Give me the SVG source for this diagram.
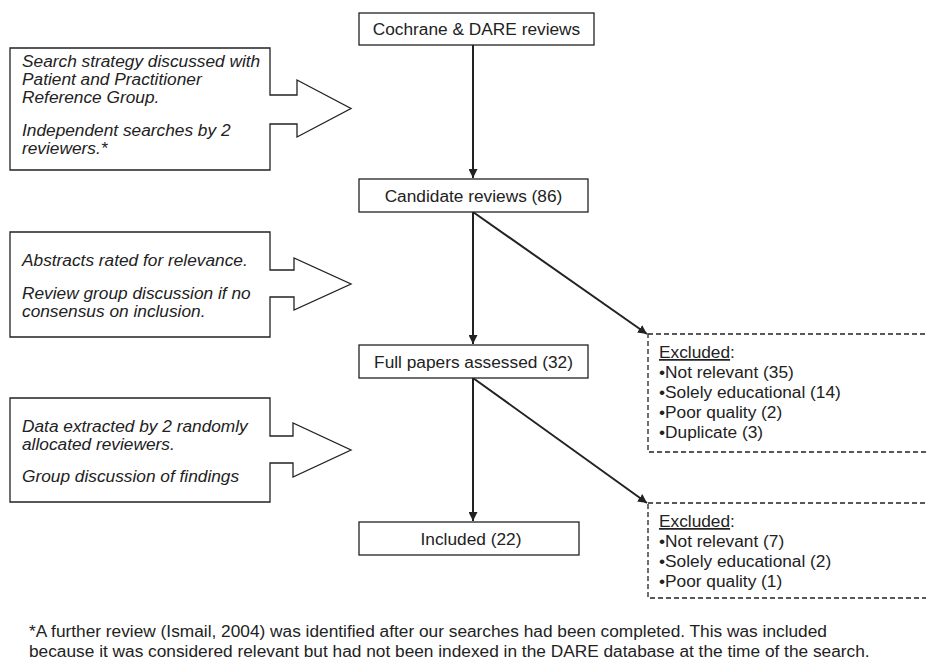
<svg xmlns="http://www.w3.org/2000/svg" width="926" height="662" viewBox="0 0 926 662">
<defs>
<style>
.box{fill:#fff;stroke:#222;stroke-width:1.3}
.dash{fill:#fff;stroke:#222;stroke-width:1.3;stroke-dasharray:5 3}
.t{font-family:"Liberation Sans",Arial,sans-serif;font-size:17.3px;fill:#222}
.c{text-anchor:middle}
.i{font-style:italic}
.fn{font-family:"Liberation Sans",Arial,sans-serif;font-size:17.3px;fill:#222}
.ln{fill:none;stroke:#222;stroke-width:2}
</style>
<marker id="ah" viewBox="0 0 10 10" refX="10" refY="5" markerWidth="4.5" markerHeight="4.5" orient="auto" markerUnits="strokeWidth">
<path d="M0,0 L10,5 L0,10 Z" fill="#222"/>
</marker>
</defs>
<rect width="926" height="662" fill="#fff"/>

<g id="connectors">
<line class="ln" x1="473" y1="45" x2="473" y2="178" marker-end="url(#ah)"/>
<line class="ln" x1="473" y1="212" x2="473" y2="344" marker-end="url(#ah)"/>
<line class="ln" x1="473" y1="378" x2="473" y2="521" marker-end="url(#ah)"/>
<line class="ln" x1="473" y1="212" x2="647" y2="334" marker-end="url(#ah)"/>
<line class="ln" x1="473" y1="378" x2="647" y2="503" marker-end="url(#ah)"/>
</g>

<g id="cochrane">
<rect class="box" x="359" y="13" width="235" height="32"/>
<text class="t c" x="476.5" y="35">Cochrane &amp; DARE reviews</text>
</g>
<g id="candidate">
<rect class="box" x="359" y="179" width="229" height="33"/>
<text class="t c" x="473.5" y="202">Candidate reviews (86)</text>
</g>
<g id="fullpapers">
<rect class="box" x="359" y="345" width="229" height="33"/>
<text class="t c" x="473.5" y="368">Full papers assessed (32)</text>
</g>
<g id="included">
<rect class="box" x="359" y="522" width="220" height="33"/>
<text class="t c" x="471" y="545">Included (22)</text>
</g>

<g id="callout1">
<path class="box" d="M10,48 H270 V95 H297 V80 L351,108.5 L297,137 V124 H270 V170 H10 Z"/>
<text class="t i" x="22" y="67">Search strategy discussed with</text>
<text class="t i" x="22" y="85">Patient and Practitioner</text>
<text class="t i" x="22" y="103">Reference Group.</text>
<text class="t i" x="22" y="136">Independent searches by 2</text>
<text class="t i" x="22" y="154">reviewers.*</text>
</g>
<g id="callout2">
<path class="box" d="M10,232 H270 V270 H294 V258 L351,284 L294,310 V297 H270 V337 H10 Z"/>
<text class="t i" x="22" y="266">Abstracts rated for relevance.</text>
<text class="t i" x="22" y="299">Review group discussion if no</text>
<text class="t i" x="22" y="317">consensus on inclusion.</text>
</g>
<g id="callout3">
<path class="box" d="M10,398 H270 V436 H293 V423 L351,450 L293,477 V463 H270 V502 H10 Z"/>
<text class="t i" x="22" y="432">Data extracted by 2 randomly</text>
<text class="t i" x="22" y="450">allocated reviewers.</text>
<text class="t i" x="22" y="482">Group discussion of findings</text>
</g>

<g id="excluded1">
<rect class="dash" x="648" y="334" width="300" height="118"/>
<text class="t" x="659" y="358"><tspan text-decoration="underline">Excluded</tspan>:</text>
<text class="t" x="659" y="378">•Not relevant (35)</text>
<text class="t" x="659" y="398">•Solely educational (14)</text>
<text class="t" x="659" y="418">•Poor quality (2)</text>
<text class="t" x="659" y="438">•Duplicate (3)</text>
</g>
<g id="excluded2">
<rect class="dash" x="648" y="503" width="300" height="95"/>
<text class="t" x="659" y="527"><tspan text-decoration="underline">Excluded</tspan>:</text>
<text class="t" x="659" y="547">•Not relevant (7)</text>
<text class="t" x="659" y="567">•Solely educational (2)</text>
<text class="t" x="659" y="587">•Poor quality (1)</text>
</g>

<g id="footnote">
<text class="fn" x="29" y="637">*A further review (Ismail, 2004) was identified after our searches had been completed. This was included</text>
<text class="fn" x="29" y="657">because it was considered relevant but had not been indexed in the DARE database at the time of the search.</text>
</g>
</svg>
